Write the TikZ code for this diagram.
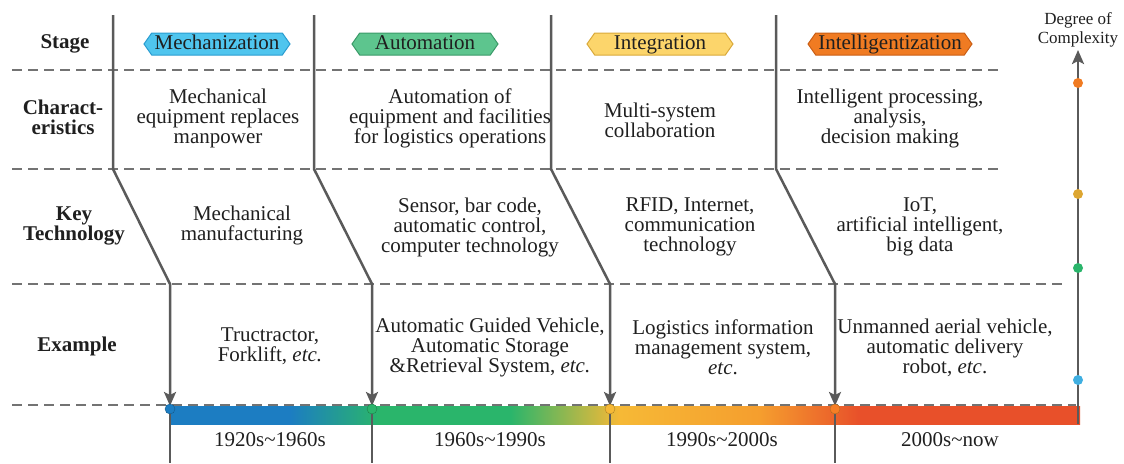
\documentclass[tikz,border=0pt]{standalone}
\usepackage{fontspec}
\setmainfont{Liberation Serif}
\usepackage{xcolor}
\usepackage{tikz}
\usetikzlibrary{positioning,arrows.meta,shapes.symbols}

\definecolor{mechfill}{HTML}{4FC5EE}
\definecolor{mechedge}{HTML}{2A9CD0}
\definecolor{autofill}{HTML}{5DC58E}
\definecolor{autoedge}{HTML}{3A9A68}
\definecolor{integfill}{HTML}{FCD56B}
\definecolor{integedge}{HTML}{D9A93A}
\definecolor{intelfill}{HTML}{F07B22}
\definecolor{inteledge}{HTML}{C95E15}
\definecolor{bblue}{HTML}{1C7DC2}
\definecolor{bgreen}{HTML}{2AB56B}
\definecolor{byellow}{HTML}{F6B936}
\definecolor{borange}{HTML}{F59E2E}
\definecolor{bred}{HTML}{E8502A}
\definecolor{inkgray}{HTML}{5A5A5A}

% colours along the time bar
\pgfdeclarehorizontalshading{timebar}{100bp}{color(0bp)=(bblue); color(31.6bp)=(bblue);
  color(36.5bp)=(bgreen); color(43.7bp)=(bgreen); color(49.7bp)=(byellow);
  color(57.4bp)=(borange); color(62.9bp)=(bred); color(100bp)=(bred)}

\begin{document}
\begin{tikzpicture}[x=1pt,y=-1pt,
    every node/.style={font=\fontsize{21}{20}\selectfont,align=center,text=black!88},
    rowlab/.style={font=\fontsize{21}{20}\selectfont\bfseries},
    stagebox/.style={draw,line width=1pt,signal,signal to=west and east,
      signal pointer angle=110,minimum height=22pt,minimum width=146pt,
      text height=14pt,text depth=4pt,inner xsep=2pt,inner ysep=2pt},
    sep/.style={draw=black!55,line width=2pt,dash pattern=on 10pt off 6pt},
    tline/.style={draw=inkgray,line width=2.5pt},
    tip/.style={-{Stealth[length=14pt,width=12pt,inset=3pt]}},
    dot/.style={circle,inner sep=0pt,minimum size=10pt}]
  \useasboundingbox (0,0) rectangle (1124,463);

  % row separators
  \draw[sep] (12,70) -- (1000,70);
  \draw[sep] (12,169) -- (1000,169);
  \draw[sep] (12,284) -- (1068,284);

  % time bar
  \shade[shading=timebar] (170,406) rectangle (1080,424);
  \draw[sep] (12,405) -- (1076,405);

  % stage lines
  \foreach \i/\xt/\xb in {1/113/170,2/314/372,3/551/610,4/776/835} {
    \coordinate (top\i) at (\xt,15);
    \coordinate (bend\i) at (\xt,169);
    \coordinate (knee\i) at (\xb,284);
    \coordinate (hit\i) at (\xb,406);
    \coordinate (foot\i) at (\xb,463);
    \draw[tline,tip] (top\i) -- (bend\i) -- (knee\i) -- (hit\i);
    \draw[tline] (hit\i) -- (foot\i);
  }
  \node[dot,fill=bblue,draw=bblue!70!black] (d1) at (170,409) {};
  \node[dot,fill=bgreen,draw=bgreen!70!black] (d2) at (372,409) {};
  \node[dot,fill=byellow,draw=byellow!70!black] (d3) at (610,409) {};
  \node[dot,fill=borange!80!red,draw=borange!70!black] (d4) at (835,409) {};

  % complexity axis
  \coordinate (axbase) at (1078,424);
  \coordinate (axtip) at (1078,50);
  \draw[tline,tip] (axbase) -- (axtip);
  \node[dot,fill=mechfill!70!bblue] (lvl1) at (1078,380) {};
  \node[dot,fill=bgreen] (lvl2) at (1078,268) {};
  \node[dot,fill=byellow!90!black] (lvl3) at (1078,194) {};
  \node[dot,fill=intelfill] (lvl4) at (1078,83) {};
  \node[font=\fontsize{17}{19}\selectfont] (cplx) at (1078,30) {Degree of\\Complexity};

  % row labels
  \node[rowlab] (stage) at (65,44) {Stage};
  \node[rowlab] (charac) at (63,117) {Charact-\\eristics};
  \node[rowlab] (keytech) at (74,226) {Key\\Technology};
  \node[rowlab] (example) at (77,346) {Example};

  % stages
  \node[stagebox,fill=mechfill,draw=mechedge] (mech) at (217,44) {Mechanization};
  \node[stagebox,fill=autofill,draw=autoedge] (auto) at (425,44) {Automation};
  \node[stagebox,fill=integfill,draw=integedge] (integ) at (660,44) {Integration};
  \node[stagebox,fill=intelfill,draw=inteledge,minimum width=164pt] (intel) at (890,44) {Intelligentization};

  % characteristics
  \node (c1) at (218,118) {Mechanical\\equipment replaces\\manpower};
  \node (c2) at (450,118) {Automation of\\equipment and facilities\\for logistics operations};
  \node (c3) at (660,120) {Multi-system\\collaboration};
  \node (c4) at (890,118) {Intelligent processing,\\analysis,\\decision making};

  % key technology
  \node (k1) at (242,225) {Mechanical\\manufacturing};
  \node (k2) at (470,227) {Sensor, bar code,\\automatic control,\\computer technology};
  \node (k3) at (690,227) {RFID, Internet,\\communication\\technology};
  \node (k4) at (920,227) {IoT,\\artificial intelligent,\\big data};

  % examples
  \node (e1) at (270,346) {Tructractor,\\Forklift, \textit{etc.}};
  \node (e2) at (490,347) {Automatic Guided Vehicle,\\Automatic Storage\\\&Retrieval System, \textit{etc.}};
  \node (e3) at (723,347) {Logistics information\\management system,\\\textit{etc}.};
  \node (e4) at (945,348) {Unmanned aerial vehicle,\\automatic delivery\\robot, \textit{etc}.};

  % periods
  \node (p1) at (270,440) {1920s\textasciitilde1960s};
  \node (p2) at (490,440) {1960s\textasciitilde1990s};
  \node (p3) at (722,440) {1990s\textasciitilde2000s};
  \node (p4) at (950,440) {2000s\textasciitilde now};
\end{tikzpicture}
\end{document}
